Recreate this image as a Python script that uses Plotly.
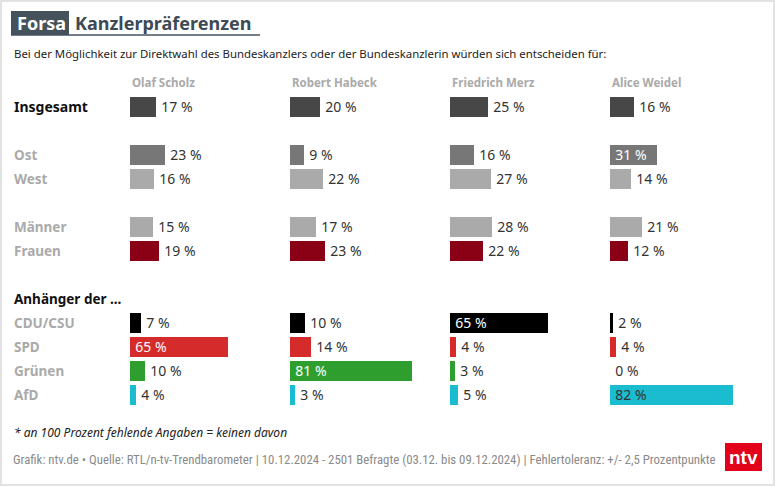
import plotly.graph_objects as go

W, H = 775, 486

candidates = ["Olaf Scholz", "Robert Habeck", "Friedrich Merz", "Alice Weidel"]
groups = ["Insgesamt", "Ost", "West", "Männer", "Frauen", "CDU/CSU", "SPD", "Grünen", "AfD"]
row_index = [0, 2, 3, 5, 6, 9, 10, 11, 12]
scholz = [17, 23, 16, 15, 19, 7, 65, 10, 4]
habeck = [20, 9, 22, 17, 23, 10, 14, 81, 3]
merz = [25, 16, 27, 28, 22, 65, 4, 3, 5]
weidel = [16, 31, 14, 21, 12, 2, 4, 0, 82]
series = [scholz, habeck, merz, weidel]

row_colors = ["#474747", "#777777", "#aaaaaa", "#aaaaaa", "#8a0014",
              "#000000", "#d52b2b", "#2e9f2e", "#1bbcd0"]
inside_text_colors = ["#ffffff", "#ffffff", "#ffffff", "#ffffff", "#ffffff",
                      "#ffffff", "#ffffff", "#ffffff", "#333333"]

FONT = "Noto Sans"
PX_PER_PCT = 1.5
COL_START = [130, 290, 450, 610]
COL_W = 160
ROW_PX0 = 106.5
ROW_STEP = 24

def px(x):
    return x / W

def py(y):
    return 1 - y / H

fig = go.Figure()
for i, vals in enumerate(series):
    ax = "x" if i == 0 else f"x{i+1}"
    pos = ["inside" if v >= 30 else "outside" for v in vals]
    tcol = [inside_text_colors[k] if vals[k] >= 30 else "#333333" for k in range(len(vals))]
    labels = [f"\u2009{v} %" for v in vals]
    fig.add_trace(go.Bar(
        x=vals, y=row_index, orientation="h",
        xaxis=ax, yaxis="y",
        marker=dict(color=row_colors, line=dict(width=0)),
        width=20 / ROW_STEP,
        text=labels,
        textposition=pos,
        insidetextanchor="start",
        textfont=dict(family=FONT, size=14, color=tcol),
        constraintext="none",
        cliponaxis=False,
        hoverinfo="skip",
        showlegend=False,
    ))

layout = dict(
    width=W, height=H,
    margin=dict(l=0, r=0, t=0, b=0),
    paper_bgcolor="white", plot_bgcolor="rgba(0,0,0,0)",
    bargap=0,
    yaxis=dict(
        range=[12.5, -0.5],
        domain=[py(ROW_PX0 + ROW_STEP * 12.5), py(ROW_PX0 - ROW_STEP * 0.5)],
        visible=False, fixedrange=True,
    ),
)
for i in range(4):
    key = "xaxis" if i == 0 else f"xaxis{i+1}"
    layout[key] = dict(
        domain=[px(COL_START[i]), px(COL_START[i] + COL_W)],
        range=[0, COL_W / PX_PER_PCT],
        visible=False, anchor="y", fixedrange=True,
    )
fig.update_layout(**layout)

ann = []
for i, c in enumerate(candidates):
    ann.append(dict(x=px(COL_START[i]), y=py(82), xref="paper", yref="paper",
                    text=f"<b>{c}</b>", showarrow=False, xanchor="left", yanchor="middle",
                    font=dict(family=FONT, size=11.5, color="#aaaaaa")))
for k, g in enumerate(groups):
    color = "#111111" if k == 0 else "#aaaaaa"
    size = 14 if k == 0 else 13.5
    ann.append(dict(x=px(12), y=row_index[k], xref="paper", yref="y",
                    text=f"<b>{g}</b>", showarrow=False, xanchor="left", yanchor="middle",
                    font=dict(family=FONT, size=size, color=color)))
ann.append(dict(x=px(12), y=8, xref="paper", yref="y",
                text="<b>Anhänger der ...</b>", showarrow=False, xanchor="left", yanchor="middle",
                font=dict(family=FONT, size=13.5, color="#111111")))
ann.append(dict(x=px(15), y=py(23), xref="paper", yref="paper",
                text="<b>Forsa</b>", showarrow=False, xanchor="left", yanchor="middle",
                font=dict(family=FONT, size=18, color="white")))
ann.append(dict(x=px(73), y=py(23), xref="paper", yref="paper",
                text="<b>Kanzlerpräferenzen</b>", showarrow=False, xanchor="left", yanchor="middle",
                font=dict(family=FONT, size=18, color="#3e4b55")))
ann.append(dict(x=px(12), y=py(53), xref="paper", yref="paper",
                text="Bei der Möglichkeit zur Direktwahl des Bundeskanzlers oder der Bundeskanzlerin würden sich entscheiden für:",
                showarrow=False, xanchor="left", yanchor="middle",
                font=dict(family=FONT, size=11.4, color="#222222")))
ann.append(dict(x=px(12), y=py(432), xref="paper", yref="paper",
                text="<i>* an 100 Prozent fehlende Angaben = keinen davon</i>",
                showarrow=False, xanchor="left", yanchor="middle",
                font=dict(family=FONT, size=12, color="#222222")))
ann.append(dict(x=px(11), y=py(459), xref="paper", yref="paper",
                text="Grafik: ntv.de • Quelle: RTL/n-tv-Trendbarometer | 10.12.2024 - 2501 Befragte (03.12. bis 09.12.2024) | Fehlertoleranz: +/- 2,5 Prozentpunkte",
                showarrow=False, xanchor="left", yanchor="middle",
                font=dict(family="Roboto Condensed, Liberation Sans Narrow, Roboto", size=12.8, color="#8a8a8a")))
ann.append(dict(x=px(743.5), y=py(457), xref="paper", yref="paper",
                text="<b>ntv</b>", showarrow=False, xanchor="center", yanchor="middle",
                font=dict(family="Liberation Sans Narrow, Liberation Sans", size=19, color="white")))

shapes = [
    dict(type="rect", xref="paper", yref="paper", x0=px(1), x1=px(774), y0=py(1), y1=py(485),
         line=dict(color="#e2e2e2", width=2), fillcolor="rgba(0,0,0,0)", layer="below"),
    dict(type="rect", xref="paper", yref="paper", x0=px(11), x1=px(69), y0=py(11), y1=py(35),
         line=dict(width=0), fillcolor="#45525c", layer="below"),
    dict(type="line", xref="paper", yref="paper", x0=px(11), x1=px(260), y0=py(35), y1=py(35),
         line=dict(color="#45525c", width=1.5)),
    dict(type="rect", xref="paper", yref="paper", x0=px(725), x1=px(762), y0=py(443), y1=py(471),
         line=dict(width=0), fillcolor="#e2001a", layer="below"),
]
fig.update_layout(annotations=ann, shapes=shapes)

fig.write_html("out.html", config={"displayModeBar": False})

with open("out.html", "r", encoding="utf-8") as f:
    html = f.read()
html = html.replace("<head>", "<head><style>html,body{margin:0;padding:0;overflow:hidden;}</style>", 1)
with open("out.html", "w", encoding="utf-8") as f:
    f.write(html)
